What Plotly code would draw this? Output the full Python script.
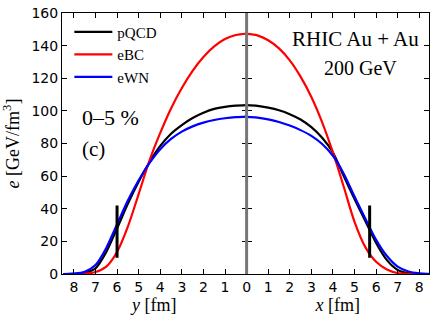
import plotly.graph_objects as go

# distances from the centre (fm)
y_pos = [0, 0.5, 1, 1.5, 2, 2.5, 3, 3.5, 4, 4.5, 5, 5.5, 6, 6.5, 7, 7.5, 8, 8.5]
x_pos = [0, 0.5, 1, 1.5, 2, 2.5, 3, 3.5, 4, 4.5, 5, 5.5, 6, 6.5, 7, 7.5, 8, 8.5]

# energy density along y (left panel), GeV/fm^3
pqcd_y = [103.5, 103.2, 102.5, 101.2, 98.8, 95.6, 91.3, 86, 78.5, 68.5, 56.5, 43, 28, 13.5, 3.5, 0.7, 0.1, 0]
ebc_y = [147.4, 146.5, 144, 139.5, 133, 124.5, 114, 101.5, 86.5, 69.5, 49, 29, 13.5, 4.5, 1.2, 0.2, 0, 0]
ewn_y = [96.5, 96.2, 95.5, 94.4, 92.8, 90.5, 87.3, 82.8, 76.5, 68, 57.5, 45, 30.5, 16, 5.5, 1.3, 0.2, 0]

# energy density along x (right panel)
pqcd_x = [103.5, 103.1, 102, 100.4, 98, 94.7, 90, 83.5, 74.5, 60, 46, 32.5, 19, 8.5, 2.5, 0.5, 0.1, 0]
ebc_x = [147.2, 146.3, 143.3, 138.3, 131, 121, 108.5, 93, 74.5, 53.5, 32, 16.5, 7.5, 2.8, 0.6, 0.1, 0, 0]
ewn_x = [96.3, 95.9, 94.8, 93.2, 91, 88.2, 84.7, 79.7, 72.5, 61.5, 47.5, 34, 21, 11, 4.5, 1.5, 0.4, 0]

# short vertical markers
mark_y = 6.0
mark_x = 5.7
mark_e = [10, 42]

names = ['pQCD', 'eBC', 'eWN']
colors = ['black', '#ff0000', '#0000ff']

serif = 'Liberation Serif'
sans = 'DejaVu Sans'

fig = go.Figure()

for name, col, vy, vx in zip(names, colors, [pqcd_y, ebc_y, ewn_y], [pqcd_x, ebc_x, ewn_x]):
    fig.add_trace(go.Scatter(x=y_pos, y=vy, mode='lines', name=name,
                             line=dict(color=col, width=2.2, shape='spline', smoothing=0.8),
                             xaxis='x', yaxis='y'))
    fig.add_trace(go.Scatter(x=x_pos, y=vx, mode='lines', name=name, showlegend=False,
                             line=dict(color=col, width=2.2, shape='spline', smoothing=0.8),
                             xaxis='x2', yaxis='y2'))

fig.add_trace(go.Scatter(x=[mark_y, mark_y], y=mark_e, mode='lines', showlegend=False,
                         line=dict(color='black', width=3), xaxis='x', yaxis='y'))
fig.add_trace(go.Scatter(x=[mark_x, mark_x], y=mark_e, mode='lines', showlegend=False,
                         line=dict(color='black', width=3), xaxis='x2', yaxis='y2'))

split = 0.503
axis_common = dict(showline=True, linecolor='black', linewidth=1, mirror='ticks',
                   ticks='inside', ticklen=5, tickcolor='black', showgrid=False,
                   zeroline=False, automargin=False,
                   tickfont=dict(family=sans, size=14, color='black'))
title_font = dict(family=serif, size=18, color='black')

fig.update_layout(
    width=436, height=321,
    margin=dict(l=62, r=7, t=13, b=47),
    plot_bgcolor='white', paper_bgcolor='white',
    xaxis=dict(domain=[0, split], range=[8.55, 0], tickvals=[1, 2, 3, 4, 5, 6, 7, 8],
               title=dict(text='<i>y</i> [fm]', font=title_font, standoff=2),
               anchor='y', **axis_common),
    xaxis2=dict(domain=[split, 1], range=[0, 8.45], tickvals=[0, 1, 2, 3, 4, 5, 6, 7, 8],
                title=dict(text='<i>x</i> [fm]', font=title_font, standoff=2),
                anchor='y2', **axis_common),
    yaxis=dict(range=[0, 160], tickvals=[0, 20, 40, 60, 80, 100, 120, 140, 160], anchor='x',
               title=dict(text='<i>e</i> [GeV/fm<sup>3</sup>]', font=title_font, standoff=8),
               **axis_common),
    yaxis2=dict(range=[0, 160], tickvals=[0, 20, 40, 60, 80, 100, 120, 140, 160], anchor='x2',
                matches='y', showticklabels=False, **axis_common),
    legend=dict(x=0.02, y=0.99, xanchor='left', yanchor='top', bgcolor='rgba(0,0,0,0)',
                font=dict(family=serif, size=15, color='black'), itemwidth=38),
    # grey divider between the two panels
    shapes=[dict(type='line', xref='paper', yref='paper', x0=split, x1=split, y0=0, y1=1, layer='above',
                 line=dict(color='#777777', width=3))],
    annotations=[
        dict(text='0–5 %', x=0.05, y=0.60, xref='paper', yref='paper', xanchor='left', yanchor='middle',
             showarrow=False, font=dict(family=serif, size=22, color='black')),
        dict(text='(c)', x=0.05, y=0.48, xref='paper', yref='paper', xanchor='left', yanchor='middle',
             showarrow=False, font=dict(family=serif, size=21, color='black')),
        dict(text='RHIC Au + Au', x=0.977, y=0.899, xref='paper', yref='paper', xanchor='right', yanchor='middle',
             showarrow=False, font=dict(family=serif, size=21, color='black')),
        dict(text='200 GeV', x=0.917, y=0.788, xref='paper', yref='paper', xanchor='right', yanchor='middle',
             showarrow=False, font=dict(family=serif, size=20, color='black')),
    ],
)

fig.write_html('out.html', config={'displayModeBar': False},
               post_script="document.body.style.margin='0';")
